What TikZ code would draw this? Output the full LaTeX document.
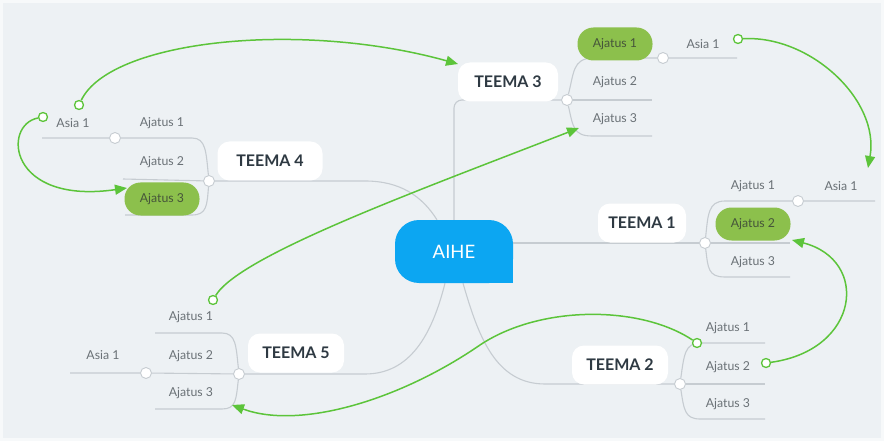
\documentclass[tikz,border=0pt]{standalone}
\usepackage{fontspec}
\setmainfont{Lato}
\usetikzlibrary{arrows.meta}

\definecolor{bgc}{HTML}{EDF1F4}
\definecolor{framec}{HTML}{F7F9FA}
\definecolor{linkc}{HTML}{C6CCD1}
\definecolor{arrowc}{HTML}{5CC43A}
\definecolor{pillc}{HTML}{8CC04C}
\definecolor{pilltext}{HTML}{46553A}
\definecolor{labelc}{HTML}{6A7176}
\definecolor{topicc}{HTML}{2E3942}
\definecolor{aihec}{HTML}{0CA6F2}

\pgfdeclarelayer{bg}
\pgfdeclarelayer{lines}
\pgfsetlayers{bg,lines,main}

\tikzset{
  link/.style={draw=linkc, line width=1.1pt},
  jn/.style={circle, fill=white, draw=linkc, line width=0.9pt, inner sep=0pt, minimum size=11pt},
  idea/.style={text=labelc, font=\fontsize{12.3}{14}\selectfont, inner sep=1pt},
  pill/.style={fill=pillc, rounded corners=16pt, minimum width=75pt, minimum height=33pt,
    text=pilltext, font=\fontsize{12.3}{14}\selectfont, inner sep=0pt},
  topic/.style={fill=white, rounded corners=12pt, minimum height=39pt, text=topicc,
    font=\fontsize{16}{18}\selectfont\bfseries, inner sep=0pt},
  centre/.style={fill=aihec, rounded corners=24pt, minimum width=118pt, minimum height=63pt,
    inner sep=0pt},
  xlink/.style={draw=arrowc, line width=1.5pt, -{Triangle[length=12pt,width=10pt]}},
  xstart/.style={circle, fill=white, draw=arrowc, line width=1.3pt, inner sep=0pt, minimum size=9pt},
}

\begin{document}
\begin{tikzpicture}[x=1pt,y=-1pt]
\useasboundingbox (0,0) rectangle (884,441);

% canvas
\begin{pgfonlayer}{bg}
  \fill[framec] (0,0) rectangle (884,441);
  \fill[bgc] (3,3) rectangle (881,438);
\end{pgfonlayer}

% central idea: rounded box with one square corner
\node[centre] (aihe) at (454,251.5) {};
\fill[aihec] (aihe.south east) rectangle ++(-24,-24);
\node[text=white, font=\fontsize{18.5}{20}\selectfont, inner sep=0pt] (aihetext) at (aihe.center) {AIHE};

% topics
\node[topic, minimum width=100pt] (t3) at (508,82)  {TEEMA 3};
\node[topic, minimum width=105pt] (t4) at (270,161) {TEEMA 4};
\node[topic, minimum width=88pt]  (t1) at (642,223) {TEEMA 1};
\node[topic, minimum width=96pt]  (t2) at (620,365) {TEEMA 2};
\node[topic, minimum width=96pt]  (t5) at (296,353) {TEEMA 5};

% junctions
\node[jn] (j3)  at (567,100) {};
\node[jn] (j31) at (663,58)  {};
\node[jn] (j4)  at (209,181) {};
\node[jn] (j41) at (115,138) {};
\node[jn] (j1)  at (705,243) {};
\node[jn] (j11) at (798,201) {};
\node[jn] (j2)  at (680,384) {};
\node[jn] (j5)  at (239,374) {};
\node[jn] (j51) at (146,373) {};

% TEEMA 3 ideas
\node[pill] (t3i1) at (615,44)  {Ajatus 1};
\node[idea] (t3i2) at (615,82)  {Ajatus 2};
\node[idea] (t3i3) at (615,119) {Ajatus 3};
\node[idea] (t3s1) at (703,44)  {Asia 1};
% TEEMA 4 ideas
\node[idea] (t4i1) at (162,123) {Ajatus 1};
\node[idea] (t4i2) at (162,162) {Ajatus 2};
\node[pill] (t4i3) at (162,199) {Ajatus 3};
\node[idea] (t4s1) at (73,123)  {Asia 1};
% TEEMA 1 ideas
\node[idea] (t1i1) at (753,186) {Ajatus 1};
\node[pill] (t1i2) at (753,224) {Ajatus 2};
\node[idea] (t1i3) at (753,262) {Ajatus 3};
\node[idea] (t1s1) at (841,186) {Asia 1};
% TEEMA 2 ideas
\node[idea] (t2i1) at (728,328) {Ajatus 1};
\node[idea] (t2i2) at (728,367) {Ajatus 2};
\node[idea] (t2i3) at (728,404) {Ajatus 3};
% TEEMA 5 ideas
\node[idea] (t5i1) at (191,317) {Ajatus 1};
\node[idea] (t5i2) at (191,356) {Ajatus 2};
\node[idea] (t5i3) at (191,393) {Ajatus 3};
\node[idea] (t5s1) at (103,355) {Asia 1};

% open ends of the underlines
\coordinate (u3a) at (737,58);
\coordinate (u3b) at (652,100);
\coordinate (u3c) at (652,136);
\coordinate (u4a) at (42,138);
\coordinate (u4b) at (123,179);
\coordinate (u4c) at (125,215);
\coordinate (u1a) at (875,201);
\coordinate (u1b) at (790,243);
\coordinate (u1c) at (790,277);
\coordinate (u2a) at (765,343);
\coordinate (u2b) at (765,384);
\coordinate (u2c) at (765,419);
\coordinate (u5a) at (155,333);
\coordinate (u5b) at (70,373);
\coordinate (u5c) at (155,409);

\begin{pgfonlayer}{lines}
  % centre to topics
  \draw[link, rounded corners=8pt] (aihe.north) |- (j3);
  \draw[link] ([xshift=-17pt]aihe.north) .. controls (422,196) and (400,181) .. (365,181) -- (j4);
  \draw[link] (aihe.east |- j1) -- (j1);
  \draw[link] ([xshift=9pt]aihe.south) .. controls (478,335) and (495,384) .. (545,384) -- (j2);
  \draw[link] ([xshift=-9pt]aihe.south) .. controls (432,335) and (410,374) .. (365,374) -- (j5);

  % TEEMA 3 branches
  \draw[link] (j3) .. controls (574,72) and (573,59) .. (592,58) -- (j31) -- (u3a);
  \draw[link] (j3) -- (u3b);
  \draw[link] (j3) .. controls (573,126) and (573,136) .. (592,136) -- (u3c);
  % TEEMA 4 branches
  \draw[link] (j4) .. controls (206,152) and (206,138) .. (192,138) -- (j41) -- (u4a);
  \draw[link] (j4) -- (u4b);
  \draw[link] (j4) .. controls (207,205) and (207,215) .. (192,215) -- (u4c);
  % TEEMA 1 branches
  \draw[link] (j1) .. controls (708,215) and (708,201) .. (725,201) -- (j11) -- (u1a);
  \draw[link] (j1) -- (u1b);
  \draw[link] (j1) .. controls (708,268) and (708,277) .. (725,277) -- (u1c);
  % TEEMA 2 branches
  \draw[link] (j2) .. controls (684,355) and (685,343) .. (700,343) -- (u2a);
  \draw[link] (j2) -- (u2b);
  \draw[link] (j2) .. controls (684,410) and (685,419) .. (700,419) -- (u2c);
  % TEEMA 5 branches
  \draw[link] (j5) .. controls (236,346) and (236,333) .. (222,333) -- (u5a);
  \draw[link] (j5) -- (j51) -- (u5b);
  \draw[link] (j5) .. controls (236,400) and (236,409) .. (222,409) -- (u5c);
\end{pgfonlayer}

% cross links
\node[xstart] (s1) at (79,105)  {};
\node[xstart] (s2) at (43,117)  {};
\node[xstart] (s3) at (738,39)  {};
\node[xstart] (s4) at (766,363) {};
\node[xstart] (s5) at (697,343) {};
\node[xstart] (s6) at (213,300) {};
\coordinate (e1) at (458,64);
\coordinate (e2) at (127,188);
\coordinate (e3) at (868,168);
\coordinate (e4) at (792,240);
\coordinate (e5) at (232,405);
\coordinate (e6) at (579,128);

\draw[xlink] (s1) .. controls (110,40) and (300,20) .. (e1);
\draw[xlink] (s2) .. controls (2,125) and (8,205) .. (e2);
\draw[xlink] (s3) .. controls (810,35) and (880,100) .. (e3);
\draw[xlink] (s4) .. controls (860,350) and (870,260) .. (e4);
\draw[xlink] (s5) .. controls (640,305) and (540,305) .. (480,345)
                   .. controls (400,400) and (300,430) .. (e5);
\draw[xlink] (s6) .. controls (240,255) and (420,190) .. (e6);
\end{tikzpicture}
\end{document}
